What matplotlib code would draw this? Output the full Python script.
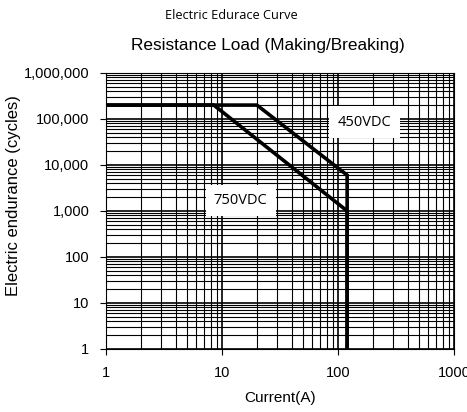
import matplotlib
matplotlib.use("Agg")
import matplotlib.pyplot as plt
from matplotlib.ticker import LogLocator, FixedLocator, NullFormatter

# data
x_750 = [1, 8.5, 120, 120]
y_750 = [200000, 200000, 1000, 1]
x_450 = [1, 20, 120, 120]
y_450 = [200000, 200000, 6000, 1]
x_ticks = [1, 10, 100, 1000]
x_ticklabels = ["1", "10", "100", "1000"]
y_ticks = [1, 10, 100, 1000, 10000, 100000, 1000000]
y_ticklabels = ["1", "10", "100", "1,000", "10,000", "100,000", "1,000,000"]

fig = plt.figure(figsize=(4.67, 4.12), dpi=100)
ax = fig.add_axes([0.227, 0.153, 0.745, 0.670])
ax.set_xscale("log")
ax.set_yscale("log")
ax.set_xlim(1, 1000)
ax.set_ylim(1, 1000000)

ax.plot(x_750, y_750, color="black", lw=2.6, solid_joinstyle="miter", zorder=3)
ax.plot(x_450, y_450, color="black", lw=2.6, solid_joinstyle="miter", zorder=3)

ax.xaxis.set_major_locator(FixedLocator(x_ticks))
ax.yaxis.set_major_locator(FixedLocator(y_ticks))
ax.set_xticklabels(x_ticklabels, family="Liberation Sans", fontsize=10.5)
ax.set_yticklabels(y_ticklabels, family="Liberation Sans", fontsize=10.5)
ax.xaxis.set_minor_locator(LogLocator(base=10, subs=range(2, 10), numticks=20))
ax.yaxis.set_minor_locator(LogLocator(base=10, subs=range(2, 10), numticks=20))
ax.xaxis.set_minor_formatter(NullFormatter())
ax.yaxis.set_minor_formatter(NullFormatter())
ax.tick_params(which="minor", length=0)
ax.tick_params(which="major", length=4, width=0.8, pad=8)
ax.grid(which="major", color="black", lw=1.2)
ax.grid(which="minor", color="black", lw=0.8)
for s in ax.spines.values():
    s.set_linewidth(0.8)

ax.text(170, 85000, "450VDC", fontsize=10.5, family="Open Sans", ha="center", va="center",
        bbox=dict(facecolor="white", edgecolor="none", pad=6), zorder=4)
ax.text(14.5, 1700, "750VDC", fontsize=10.5, family="Open Sans", ha="center", va="center",
        bbox=dict(facecolor="white", edgecolor="none", pad=6), zorder=4)

ax.set_xlabel("Current(A)", family="Liberation Sans", fontsize=11, labelpad=8)
ax.set_ylabel("Electric endurance (cycles)", family="Liberation Sans", fontsize=12)
ax.yaxis.set_label_coords(-0.245, 0.554)

fig.text(0.496, 0.963, "Electric Edurace Curve", family="Open Sans", fontsize=9.2, ha="center", va="center")
fig.text(0.573, 0.89, "Resistance Load (Making/Breaking)", family="Liberation Sans", fontsize=12.4, ha="center", va="center")

fig.savefig("out.png", dpi=100)
